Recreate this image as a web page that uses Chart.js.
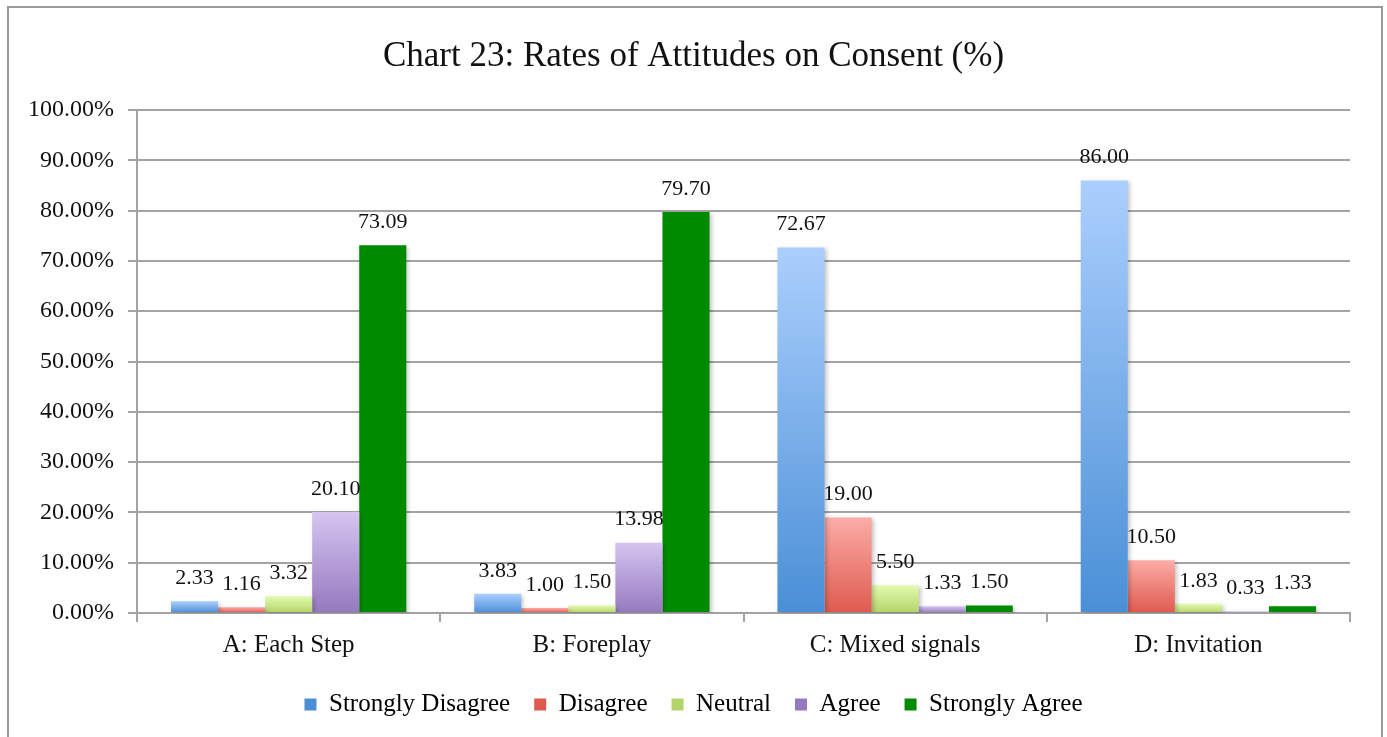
<!DOCTYPE html>
<html>
<head>
<meta charset="utf-8">
<title>Rates of Attitudes on Consent</title>
<script src="https://cdn.jsdelivr.net/npm/chart.js@4"></script>
<style>
    html, body { margin: 0; padding: 0; background: #fff; }
    #wrap { position: relative; width: 1387px; height: 737px; }
</style>
</head>
<body>
<div id="wrap"><canvas id="consent"></canvas></div>
<script>
const categories = ["A: Each Step", "B: Foreplay", "C: Mixed signals", "D: Invitation"];
const seriesNames = ["Strongly Disagree", "Disagree", "Neutral", "Agree", "Strongly Agree"];

const stronglyDisagree = [2.33, 3.83, 72.67, 86.00];
const disagree = [1.16, 1.00, 19.00, 10.50];
const neutral = [3.32, 1.50, 5.50, 1.83];
const agree = [20.10, 13.98, 1.33, 0.33];
const stronglyAgree = [73.09, 79.70, 1.50, 1.33];

const yTicks = [0, 10, 20, 30, 40, 50, 60, 70, 80, 90, 100];

// top / bottom colour of each bar gradient
const barColors = [
    ["#abcffd", "#4a8fd6"],
    ["#fcaca7", "#de5a4f"],
    ["#e3fbb0", "#b3d468"],
    ["#d6c4f1", "#9579bf"],
    ["#008a00", "#008a00"],
];

const serif = "'Liberation Serif', 'Times New Roman', serif";

function gradientFill(i) {
    return (c) => {
        const [top, bottom] = barColors[i];
        if (c.type !== 'data' || !c.chart.scales.y) return bottom;
        const y = c.chart.scales.y;
        const y0 = y.getPixelForValue(c.parsed.y);
        const y1 = y.getPixelForValue(0);
        if (!isFinite(y0) || y1 - y0 < 0.5) return bottom;
        const g = c.chart.ctx.createLinearGradient(0, y0, 0, y1);
        g.addColorStop(0, top);
        g.addColorStop(1, bottom);
        return g;
    };
}

const values = [stronglyDisagree, disagree, neutral, agree, stronglyAgree];

// frame around the whole chart; also lets the y labels run into the left padding
const frame = {
    id: 'frame',
    afterLayout(chart) {
        chart.scales.y.left = 0;
    },
    beforeDraw(chart) {
        const ctx = chart.ctx;
        ctx.save();
        ctx.strokeStyle = '#9a9a9a';
        ctx.lineWidth = 2;
        ctx.strokeRect(8, 7, 1374, 800);
        ctx.restore();
    }
};

// soft shadow under the bars
const barShadow = {
    id: 'barShadow',
    beforeDatasetDraw(chart) {
        const ctx = chart.ctx;
        ctx.save();
        ctx.shadowColor = 'rgba(0,0,0,0.22)';
        ctx.shadowBlur = 4;
        ctx.shadowOffsetX = 2;
        ctx.shadowOffsetY = 2;
    },
    afterDatasetDraw(chart) {
        chart.ctx.restore();
    }
};

// value written above each bar
const valueLabels = {
    id: 'valueLabels',
    afterDatasetsDraw(chart) {
        const ctx = chart.ctx;
        ctx.save();
        ctx.font = "22px " + serif;
        ctx.fillStyle = '#111';
        ctx.textAlign = 'center';
        ctx.textBaseline = 'bottom';
        chart.data.datasets.forEach((ds, i) => {
            chart.getDatasetMeta(i).data.forEach((bar, j) => {
                ctx.fillText(ds.data[j].toFixed(2), bar.x, bar.y - 12);
            });
        });
        ctx.restore();
    }
};

new Chart(document.getElementById('consent'), {
    type: 'bar',
    data: {
        labels: categories,
        datasets: seriesNames.map((name, i) => ({
            label: name,
            data: values[i],
            backgroundColor: gradientFill(i),
            borderWidth: 0,
            categoryPercentage: 0.776,
            barPercentage: 1.0,
        })),
    },
    plugins: [frame, barShadow, valueLabels],
    options: {
        responsive: true,
        maintainAspectRatio: false,
        animation: false,
        layout: {
            padding: { left: 37, right: 37, top: 0, bottom: 10 },
        },
        scales: {
            y: {
                min: 0,
                max: 100,
                afterBuildTicks(scale) {
                    scale.ticks = yTicks.map(v => ({ value: v }));
                },
                afterFit(scale) {
                    scale.width = 100;
                },
                grid: {
                    color: '#a3a3a3',
                    lineWidth: 2,
                    tickLength: 9,
                },
                border: { color: '#a3a3a3', width: 2 },
                ticks: {
                    color: '#111',
                    padding: 14,
                    font: { family: serif, size: 24 },
                    callback: v => v.toFixed(2) + '%',
                },
            },
            x: {
                grid: {
                    offset: true,
                    drawOnChartArea: false,
                    color: '#a3a3a3',
                    lineWidth: 2,
                    tickLength: 9,
                },
                border: { color: '#a3a3a3', width: 2 },
                ticks: {
                    color: '#111',
                    padding: 8,
                    font: { family: serif, size: 25 },
                },
            },
        },
        plugins: {
            title: {
                display: true,
                text: 'Chart 23: Rates of Attitudes on Consent (%)',
                color: '#111',
                font: { family: serif, size: 35, weight: 'normal' },
                padding: { top: 36, bottom: 32 },
            },
            legend: {
                position: 'bottom',
                labels: {
                    color: '#111',
                    boxWidth: 12,
                    boxHeight: 12,
                    padding: 24,
                    font: { family: serif, size: 25 },
                    generateLabels(chart) {
                        return seriesNames.map((name, i) => ({
                            text: name,
                            fillStyle: barColors[i][1],
                            strokeStyle: barColors[i][1],
                            lineWidth: 0,
                            datasetIndex: i,
                        }));
                    },
                },
            },
            tooltip: { enabled: false },
        },
    },
});
</script>
</body>
</html>
